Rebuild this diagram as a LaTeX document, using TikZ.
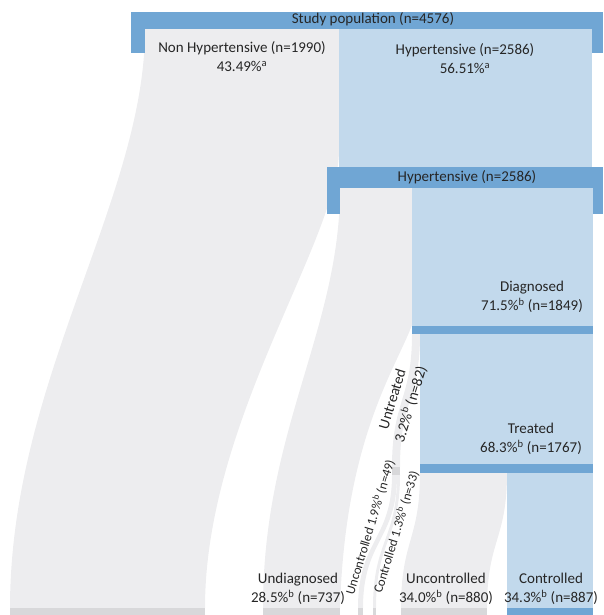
\documentclass[tikz,border=0pt]{standalone}
\usepackage{fontspec}
\setmainfont{Carlito}
\definecolor{barblue}{RGB}{112,166,212}
\definecolor{flowblue}{RGB}{194,217,236}
\definecolor{flowgray}{RGB}{237,237,239}
\definecolor{endgray}{RGB}{216,216,218}
\definecolor{txt}{RGB}{38,38,38}
\begin{document}
\begin{tikzpicture}[x=1pt, y=-1pt,
        bar/.style={fill=barblue},
        hyp/.style={fill=flowblue},
        non/.style={fill=flowgray},
        endbar/.style={fill=endgray},
        lbl/.style={text=txt, align=center, inner sep=0pt, font=\fontsize{15}{19}\selectfont},
        small/.style={lbl, font=\fontsize{13}{16}\selectfont, rotate=73}]
        \useasboundingbox (0,0) rectangle (603,615);

        % study population split
        \fill[non] (145,29) -- (339,29) -- (339,150) .. controls (339,240) and (205,420) .. (205,608)
            -- (10,608) .. controls (10,380) and (145,200) .. (145,29) -- cycle;
        \fill[hyp] (339,29) rectangle (592,167);

        % hypertensive split
        \fill[non] (340,188) -- (412,188) -- (412,325) .. controls (395,370) and (345,440) .. (340,608)
            -- (263,608) .. controls (263,430) and (340,330) .. (340,188) -- cycle;
        \fill[hyp] (412,188) rectangle (593,326);

        % diagnosed split
        \fill[non] (412,334) -- (420,334) .. controls (420,400) and (400,400) .. (400,467)
            -- (392,467) .. controls (392,400) and (412,400) .. (412,334) -- cycle;
        \fill[hyp] (420,334) rectangle (593,464);

        % untreated split
        \fill[non] (392,475) -- (397,475) .. controls (397,540) and (363,540) .. (363,608)
            -- (358,608) .. controls (358,540) and (392,540) .. (392,475) -- cycle;
        \fill[non] (397,475) -- (400,475) .. controls (400,540) and (376,540) .. (376,608)
            -- (373,608) .. controls (373,540) and (397,540) .. (397,475) -- cycle;

        % treated split
        \fill[non] (420,473) -- (507,473) .. controls (507,540) and (487,540) .. (487,608)
            -- (401,608) .. controls (401,540) and (420,540) .. (420,473) -- cycle;
        \fill[hyp] (507,473) rectangle (593,608);

        % bars
        \fill[bar] (131,12) rectangle (603,29);
        \fill[bar] (131,29) rectangle (145,53);
        \fill[bar] (592,29) rectangle (603,53);
        \fill[bar] (327,167) rectangle (603,188);
        \fill[bar] (327,188) rectangle (340,214);
        \fill[bar] (593,188) rectangle (603,214);
        \fill[bar] (412,326) rectangle (593,334);
        \fill[bar] (420,464) rectangle (593,473);
        \fill[endbar] (392,467) rectangle (400,475);

        % end bars
        \fill[endbar] (10,608) rectangle (205,615);
        \fill[endbar] (263,608) rectangle (340,615);
        \fill[endbar] (358,608) rectangle (363,615);
        \fill[endbar] (373,608) rectangle (376,615);
        \fill[endbar] (401,608) rectangle (487,615);
        \fill[bar] (507,608) rectangle (593,615);

        % labels
        \node[lbl] (study) at (373,19) {Study population (n=4576)};
        \node[lbl] (nonhyp) at (242,57) {Non Hypertensive (n=1990)\\43.49\%\textsuperscript{a}};
        \node[lbl] (hyp) at (465,59) {Hypertensive (n=2586)\\56.51\%\textsuperscript{a}};
        \node[lbl] (hyptwo) at (467,177) {Hypertensive (n=2586)};
        \node[lbl] (diag) at (532,297) {Diagnosed\\71.5\%\textsuperscript{b} (n=1849)};
        \node[lbl] (treat) at (531,439) {Treated\\68.3\%\textsuperscript{b} (n=1767)};
        \node[lbl] (undiag) at (298,589) {Undiagnosed\\28.5\%\textsuperscript{b} (n=737)};
        \node[lbl] (unctrl) at (446,589) {Uncontrolled\\34.0\%\textsuperscript{b} (n=880)};
        \node[lbl] (ctrl) at (551,589) {Controlled\\34.3\%\textsuperscript{b} (n=887)};
        \node[lbl, rotate=73] (untreat) at (402,402) {Untreated\\3.2\%\textsuperscript{b} (n=82)};
        \node[small] (untunctrl) at (370,527) {Uncontrolled 1.9\%\textsuperscript{b} (n=49)};
        \node[small] (untctrl) at (396,532) {Controlled 1.3\%\textsuperscript{b} (n=33)};
\end{tikzpicture}
\end{document}
